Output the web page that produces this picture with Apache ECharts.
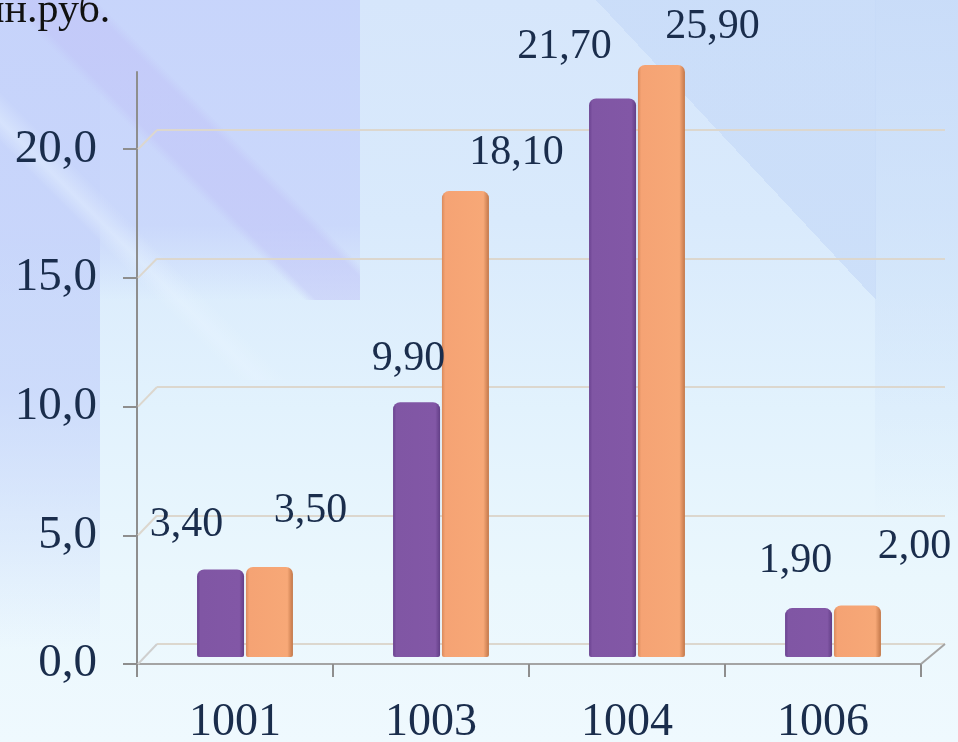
<!DOCTYPE html>
<html><head><meta charset="utf-8">
<script src="https://cdn.jsdelivr.net/npm/echarts@6/dist/echarts.min.js"></script>
<style>
html,body{margin:0;padding:0;width:958px;height:742px;overflow:hidden;}
body{
  background-color:#e6f4fd;
  background-image:
    linear-gradient(45deg, rgba(190,190,246,0) 46%, rgba(192,194,247,0.5) 48%, rgba(192,194,247,0.5) 58%, rgba(190,190,246,0) 60%),
    linear-gradient(45deg, rgba(232,244,255,0) 33%, rgba(232,244,255,0.45) 36%, rgba(232,244,255,0) 40%),
    linear-gradient(to bottom, rgba(198,211,251,0.9) 0%, rgba(200,213,251,0.85) 75%, rgba(205,220,251,0) 100%),
    linear-gradient(to bottom, rgba(196,210,250,0.85) 0%, rgba(196,210,250,0.7) 60%, rgba(205,220,250,0) 100%),
    linear-gradient(to bottom left, rgba(198,218,248,0.7) 50%, rgba(198,218,248,0) 50%),
    linear-gradient(to bottom, rgba(198,218,248,0.8) 0%, rgba(205,225,249,0.45) 60%, rgba(215,235,250,0) 100%),
    linear-gradient(to bottom, #d6e6fb 0%, #d9eafc 30%, #e2f2fd 55%, #eaf7fd 78%, #eff9fe 100%);
  background-size: 360px 300px, 360px 360px, 360px 300px, 100px 650px, 280px 300px, 83px 520px, 100% 100%;
  background-position: 0 0, 0 20px, 0 0, 0 0, 596px 0, 875px 0, 0 0;
  background-repeat: no-repeat;
}
#c{width:958px;height:742px;}
</style></head><body><div id="c"></div>
<script>
const categories = ['1001', '1003', '1004', '1006'];
const series1 = [3.40, 9.90, 21.70, 1.90];
const series2 = [3.50, 18.10, 25.90, 2.00];
const yTickValues = [0, 5, 10, 15, 20];
const unitLabel = 'млн.руб.';
const axisMax = 23;

// label offsets (layout only)
const offsets1 = [[-34, -24], [-8, -22], [-48, -30], [-13, -26]];
const offsets2 = [[41, -35], [51, -17], [51, -17], [57, -38]];

const FONT = '"Liberation Serif", "Times New Roman", serif';
const TXT = '#1a2d4c';
const fmt2 = v => v.toFixed(2).replace('.', ',');
const fmt1 = v => Number(v).toFixed(1).replace('.', ',');

const chart = echarts.init(document.getElementById('c'), null, {renderer: 'canvas'});

function mkData(vals, offs) {
  return vals.map((v, i) => ({value: v, label: {offset: offs[i]}}));
}

const purple = new echarts.graphic.LinearGradient(0, 0, 1, 0, [
  {offset: 0, color: '#6a4290'}, {offset: 0.07, color: '#8056a4'},
  {offset: 0.9, color: '#8257a6'}, {offset: 1, color: '#623e86'}]);
const orange = new echarts.graphic.LinearGradient(0, 0, 1, 0, [
  {offset: 0, color: '#d98a5c'}, {offset: 0.07, color: '#f5a374'},
  {offset: 0.88, color: '#f7a877'}, {offset: 1, color: '#c27749'}]);

const labelCommon = {
  show: true, position: 'top', distance: 0,
  fontFamily: FONT, fontSize: 42, lineHeight: 42, color: TXT,
  formatter: p => fmt2(p.value)
};

chart.setOption({
  animation: false,
  grid: [
    {left: 157, right: 13, top: 130, bottom: 98, outerBoundsMode: 'none'},
    {left: 137, right: 37, top: 72, bottom: 78, outerBoundsMode: 'none'},
    {left: 147, right: 27, top: 65, bottom: 85, outerBoundsMode: 'none'}
  ],
  xAxis: [
    {gridIndex: 0, type: 'value', show: false},
    {gridIndex: 1, type: 'category', data: categories,
      axisLine: {lineStyle: {color: '#a4a4a4', width: 2}},
      axisTick: {show: true, length: 13, lineStyle: {color: '#8e8e8e', width: 2}},
      axisLabel: {fontFamily: FONT, fontSize: 46, color: TXT, margin: 36}},
    {gridIndex: 2, type: 'category', data: categories, show: false}
  ],
  yAxis: [
    {gridIndex: 0, type: 'value', min: 0, max: 20, interval: 5,
      axisLine: {show: false}, axisTick: {show: false}, axisLabel: {show: false},
      splitLine: {show: true, lineStyle: {color: '#dcd7ce', width: 2}}},
    {gridIndex: 1, type: 'value', min: 0, max: axisMax, interval: 5,
      axisLine: {show: true, lineStyle: {color: '#8e8e8e', width: 2}},
      axisTick: {show: true, length: 14, customValues: yTickValues, lineStyle: {color: '#8e8e8e', width: 2}},
      axisLabel: {customValues: yTickValues, fontFamily: FONT, fontSize: 47, color: TXT, margin: 40,
        formatter: v => fmt1(v)},
      splitLine: {show: false}},
    {gridIndex: 2, type: 'value', min: 0, max: axisMax, show: false, splitLine: {show: false}}
  ],
  series: [
    {type: 'bar', xAxisIndex: 2, yAxisIndex: 2, data: mkData(series1, offsets1),
      barWidth: 47, barGap: '4%', clip: true,
      itemStyle: {color: purple, borderRadius: [7, 7, 2, 2]},
      label: labelCommon, z: 5},
    {type: 'bar', xAxisIndex: 2, yAxisIndex: 2, data: mkData(series2, offsets2),
      barWidth: 47, barGap: '4%', clip: true,
      itemStyle: {color: orange, borderRadius: [7, 7, 2, 2]},
      label: labelCommon, z: 5}
  ]
});

// 3D connectors derived from the axes
const model = chart.getModel();
const r0 = model.getComponent('grid', 0).coordinateSystem.getRect();
const r1 = model.getComponent('grid', 1).coordinateSystem.getRect();
const elements = [];
yTickValues.forEach(v => {
  const yf = chart.convertToPixel({yAxisIndex: 1}, v);
  const yb = chart.convertToPixel({yAxisIndex: 0}, v);
  elements.push({type: 'line', z: 1, silent: true,
    shape: {x1: r1.x + 1, y1: yf, x2: r0.x, y2: yb},
    style: {stroke: v === 0 ? '#cfcfcf' : '#dcd7ce', lineWidth: 2}});
});
{
  const yf = chart.convertToPixel({yAxisIndex: 1}, 0);
  const yb = chart.convertToPixel({yAxisIndex: 0}, 0);
  elements.push({type: 'line', z: 1, silent: true,
    shape: {x1: r1.x + r1.width, y1: yf, x2: r0.x + r0.width, y2: yb},
    style: {stroke: '#a4a4a4', lineWidth: 2}});
}
elements.push({type: 'text', left: -43, top: -10, z: 10,
  style: {text: unitLabel, font: '42px ' + FONT, fill: '#111'}});
chart.setOption({graphic: elements});
</script></body></html>
